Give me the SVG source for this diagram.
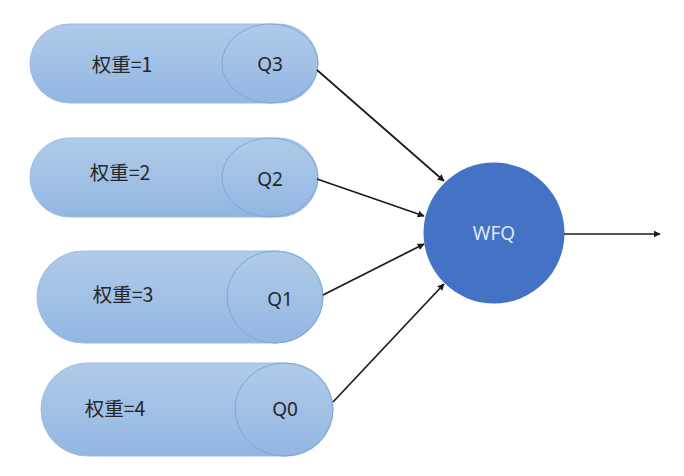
<svg xmlns="http://www.w3.org/2000/svg" width="684" height="476" viewBox="0 0 684 476">
<style>
.cap{fill:url(#g);stroke:#9dbde3;stroke-width:1}
.end{fill:url(#g);stroke:#7fa8d9;stroke-width:1}
.t{font-family:"Noto Sans CJK SC","Noto Sans",sans-serif;font-size:19.5px;fill:#262626;text-anchor:middle}
.q{font-family:"Noto Sans","Noto Sans CJK SC",sans-serif;font-size:19px;fill:#262626;text-anchor:middle}
.w{font-family:"Noto Sans","Noto Sans CJK SC",sans-serif;font-size:19px;fill:#dfe8f6;text-anchor:middle}
.c{stroke:#1a1a1a;stroke-width:1.7;fill:none;marker-end:url(#a)}
</style>
<defs>
<linearGradient id="g" x1="0" y1="0" x2="0" y2="1">
<stop offset="0" stop-color="#b0cbe9"/>
<stop offset="1" stop-color="#93b6e1"/>
</linearGradient>
<marker id="a" viewBox="0 0 10 10" refX="9" refY="5" markerWidth="7" markerHeight="7" orient="auto" markerUnits="userSpaceOnUse">
<path d="M0,0 L10,5 L0,10 z" fill="#1a1a1a"/>
</marker>
</defs>
<g id="q3">
<rect class="cap" x="30" y="24" width="288" height="79" rx="39.5" ry="39.5"/>
<ellipse class="end" cx="270" cy="63.5" rx="48" ry="39.5"/>
<text class="t" x="122" y="72">权重=1</text>
<text class="q" x="270" y="71">Q3</text>
</g>
<g id="q2">
<rect class="cap" x="30" y="138" width="288" height="79" rx="39.5" ry="39.5"/>
<ellipse class="end" cx="270" cy="177.5" rx="48" ry="39.5"/>
<text class="t" x="120" y="180">权重=2</text>
<text class="q" x="270" y="186">Q2</text>
</g>
<g id="q1">
<rect class="cap" x="37" y="251" width="286" height="92" rx="46" ry="46"/>
<ellipse class="end" cx="275" cy="297" rx="48" ry="46"/>
<text class="t" x="123" y="302">权重=3</text>
<text class="q" x="280" y="306">Q1</text>
</g>
<g id="q0">
<rect class="cap" x="41" y="363" width="292" height="93" rx="46.5" ry="46.5"/>
<ellipse class="end" cx="284" cy="409.5" rx="49" ry="46.5"/>
<text class="t" x="115" y="416">权重=4</text>
<text class="q" x="285" y="416">Q0</text>
</g>
<g id="wfq">
<circle cx="494" cy="233" r="70.5" fill="#4472c4"/>
<text class="w" x="494" y="240">WFQ</text>
</g>
<g id="connectors">
<line class="c" x1="317" y1="70" x2="444" y2="181"/>
<line class="c" x1="317" y1="179" x2="424" y2="216"/>
<line class="c" x1="323" y1="295" x2="424" y2="244"/>
<line class="c" x1="333" y1="402" x2="444" y2="284"/>
<line class="c" x1="564" y1="234" x2="660" y2="234"/>
</g>
</svg>
